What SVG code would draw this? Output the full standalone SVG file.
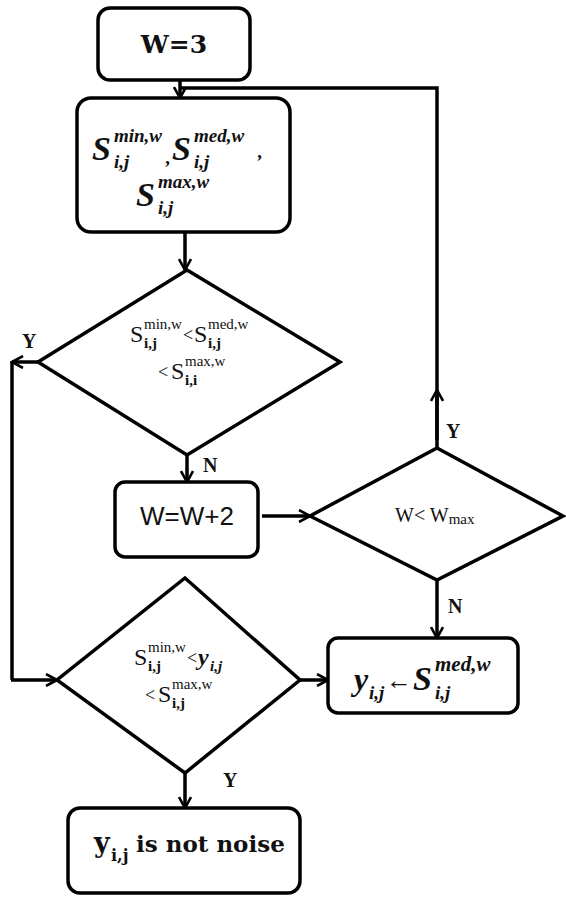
<svg xmlns="http://www.w3.org/2000/svg" width="566" height="897" viewBox="0 0 566 897">
<defs>
<marker id="ah" viewBox="0 0 14 14" refX="12" refY="7" markerWidth="14" markerHeight="14" markerUnits="userSpaceOnUse" orient="auto">
<path d="M1,1 L12,7 L1,13" fill="none" stroke="#000" stroke-width="2.6" stroke-linejoin="miter"/>
</marker>
<style>
.box{fill:#fff;stroke:#000;stroke-width:3.5}
.dia{fill:#fff;stroke:#000;stroke-width:3.5;stroke-linejoin:miter}
.ln{fill:none;stroke:#000;stroke-width:3.5}
.ar{fill:none;stroke:#000;stroke-width:3.5;marker-end:url(#ah)}
.t{font-family:'Liberation Serif','DejaVu Serif','Times New Roman',serif;fill:#111}
.d{font-family:'DejaVu Serif','Liberation Serif',serif;fill:#111}
.bi{font-weight:bold;font-style:italic}
.b{font-weight:bold}
.lbl{font-family:'Liberation Serif','DejaVu Serif','Times New Roman',serif;font-weight:bold;font-size:20px;fill:#111}
</style>
</defs>
<rect width="566" height="897" fill="#fff"/>
<g id="connectors">
<line class="ar" x1="180" y1="80" x2="180" y2="98"/>
<polyline class="ln" points="437,448 437,88 180,88"/>
<line class="ar" x1="437" y1="440" x2="437" y2="390"/>
<line class="ar" x1="185" y1="232" x2="185" y2="270"/>
<line class="ar" x1="38" y1="362" x2="12" y2="362"/>
<line class="ln" x1="12" y1="362" x2="12" y2="680"/>
<line class="ar" x1="11" y1="680" x2="57" y2="680"/>
<line class="ar" x1="187" y1="455" x2="187" y2="482"/>
<line class="ar" x1="262" y1="516" x2="310" y2="516"/>
<line class="ar" x1="437" y1="580" x2="437" y2="638"/>
<line class="ar" x1="300" y1="680" x2="328" y2="680"/>
<line class="ar" x1="185" y1="773" x2="185" y2="808"/>
<text class="lbl" x="22" y="348">Y</text>
<text class="lbl" x="203" y="472">N</text>
<text class="lbl" x="446" y="438">Y</text>
<text class="lbl" x="448" y="613">N</text>
<text class="lbl" x="327" y="660">N</text>
<text class="lbl" x="223" y="787">Y</text>
</g>
<g id="n1">
<rect class="box" x="98" y="8" width="152" height="72" rx="12"/>
<text class="d b" x="174" y="53" font-size="25" text-anchor="middle">W=3</text>
</g>
<g id="n2">
<rect class="box" x="77" y="98" width="213" height="134" rx="14"/>
<text class="t bi" x="92" y="160" font-size="34">S</text>
<text class="t bi" x="114" y="142" font-size="19">min,w</text>
<text class="t bi" x="114" y="168" font-size="19">i,j</text>
<text class="t bi" x="166" y="164" font-size="19">,</text>
<text class="t bi" x="172" y="160" font-size="34">S</text>
<text class="t bi" x="194" y="142" font-size="19">med,w</text>
<text class="t bi" x="194" y="168" font-size="19">i,j</text>
<text class="t bi" x="258" y="158" font-size="19">,</text>
<text class="t bi" x="136" y="206" font-size="34">S</text>
<text class="t bi" x="158" y="188" font-size="19">max,w</text>
<text class="t bi" x="158" y="214" font-size="19">i,j</text>
</g>
<g id="n3">
<polygon class="dia" points="187,270 340,362 187,455 38,362"/>
<text class="t" x="130" y="342" font-size="24">S</text>
<text class="t" x="144" y="329" font-size="15">min,w</text>
<text class="t b" x="144" y="348" font-size="15">i,j</text>
<text class="t" x="183" y="341" font-size="18">&lt;</text>
<text class="t" x="194" y="342" font-size="24">S</text>
<text class="t" x="208" y="329" font-size="15">med,w</text>
<text class="t b" x="208" y="348" font-size="15">i,j</text>
<text class="t" x="158" y="378" font-size="18">&lt;</text>
<text class="t" x="171" y="379" font-size="24">S</text>
<text class="t" x="185" y="366" font-size="15">max,w</text>
<text class="t b" x="185" y="385" font-size="15">i,i</text>
</g>
<g id="n4">
<rect class="box" x="115" y="482" width="143" height="75" rx="10"/>
<text x="187" y="525" font-family="'Liberation Sans','DejaVu Sans',sans-serif" font-size="26" fill="#111" text-anchor="middle">W=W+2</text>
</g>
<g id="n5">
<polygon class="dia" points="437,448 563,516 437,580 310,516"/>
<text class="t" x="395" y="522" font-size="20">W&lt; W<tspan font-size="15" dy="2">max</tspan></text>
</g>
<g id="n6">
<polygon class="dia" points="185,578 300,680 185,773 57,680"/>
<text class="t" x="134" y="665" font-size="24">S</text>
<text class="t" x="148" y="652" font-size="15">min,w</text>
<text class="t b" x="148" y="671" font-size="15">i,j</text>
<text class="t" x="187" y="664" font-size="18">&lt;</text>
<text class="t bi" x="198" y="665" font-size="24">y</text>
<text class="t bi" x="210" y="671" font-size="15">i,j</text>
<text class="t" x="145" y="701" font-size="18">&lt;</text>
<text class="t" x="158" y="702" font-size="24">S</text>
<text class="t" x="172" y="689" font-size="15">max,w</text>
<text class="t b" x="172" y="708" font-size="15">i,j</text>
</g>
<g id="n7">
<rect class="box" x="328" y="638" width="190" height="75" rx="10"/>
<text class="t bi" x="354" y="690" font-size="32">y</text>
<text class="t bi" x="369" y="699" font-size="19">i,j</text>
<text class="t" x="386" y="689" font-size="26">←</text>
<text class="t bi" x="413" y="690" font-size="34">S</text>
<text class="t bi" x="435" y="671" font-size="21">med,w</text>
<text class="t bi" x="435" y="699" font-size="19">i,j</text>
</g>
<g id="n8">
<rect class="box" x="68" y="808" width="232" height="85" rx="12"/>
<text class="d b" x="94" y="852" font-size="27">y</text>
<text class="d b" x="111" y="861" font-size="16">i,j</text>
<text class="d b" x="136" y="852" font-size="23">is not noise</text>
</g>
</svg>
